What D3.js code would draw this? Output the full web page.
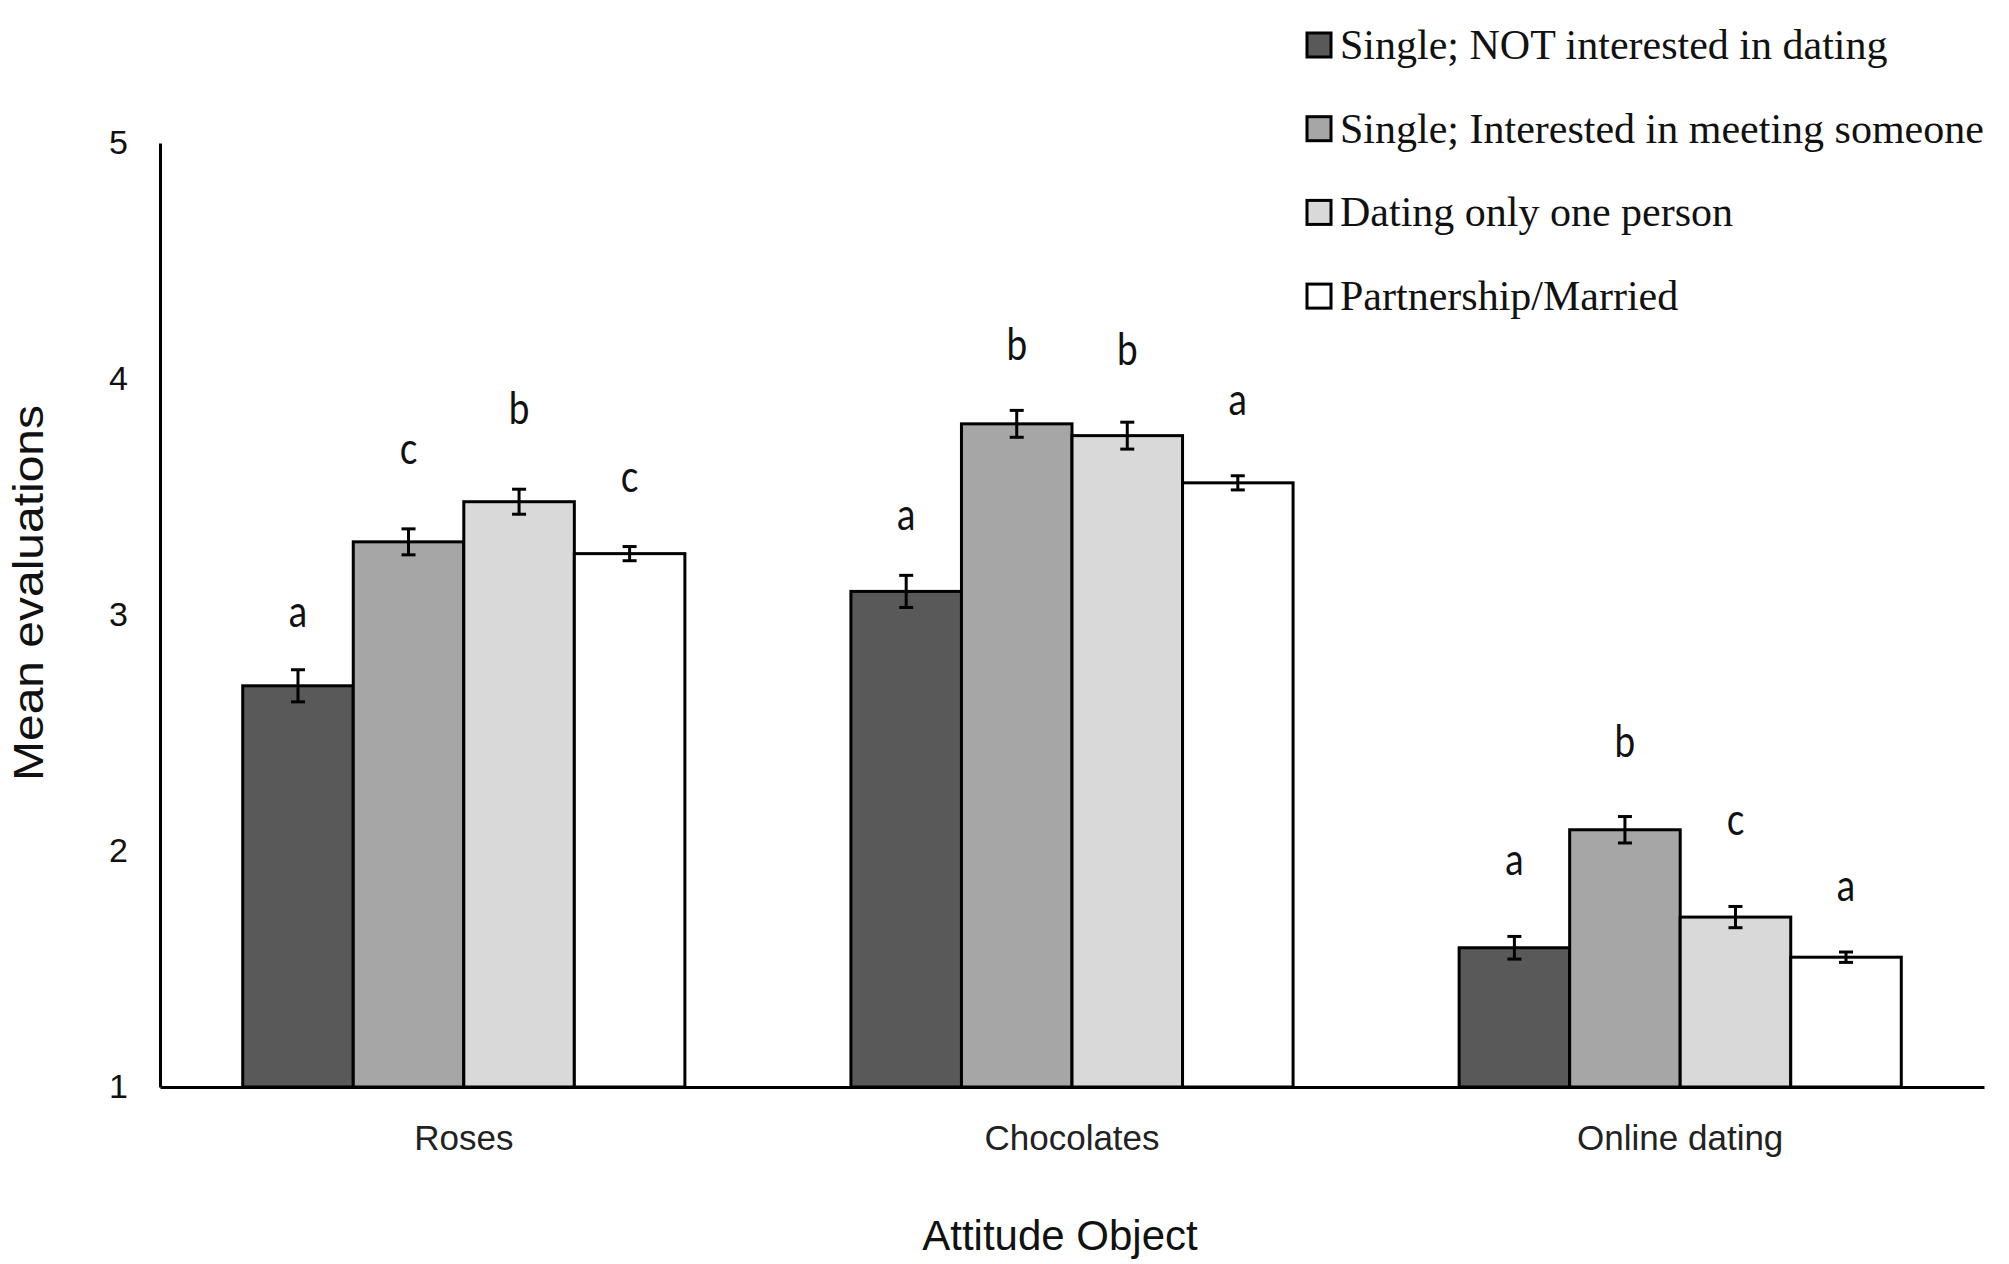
<!DOCTYPE html>
<html>
<head>
<meta charset="utf-8">
<script src="https://cdn.jsdelivr.net/npm/d3@7"></script>
<style>
  html, body { margin: 0; padding: 0; background: #fff; }
  svg { display: block; }
</style>
</head>
<body>
<div id="chart"></div>
<script>
// data
const categories = ['Roses', 'Chocolates', 'Online dating']
const groups = ['Single; NOT interested in dating', 'Single; Interested in meeting someone', 'Dating only one person', 'Partnership/Married']
const colors = ['#595959', '#a6a6a6', '#d9d9d9', '#ffffff']

// means per group, one value per category
const notInterested = [2.70, 3.10, 1.59]
const meetingSomeone = [3.31, 3.81, 2.09]
const datingOne = [3.48, 3.76, 1.72]
const married = [3.26, 3.56, 1.55]

// standard errors
const errNotInterested = [0.068, 0.068, 0.048]
const errMeetingSomeone = [0.055, 0.057, 0.056]
const errDatingOne = [0.053, 0.057, 0.045]
const errMarried = [0.03, 0.03, 0.022]

// significance letters and the level (y value) where each is printed
const lettersNotInterested = ['a', 'a', 'a']
const lettersMeetingSomeone = ['c', 'b', 'b']
const lettersDatingOne = ['b', 'b', 'c']
const lettersMarried = ['c', 'a', 'a']
const letterLevels = [
    [3.00, 3.41, 1.95],
    [3.69, 4.13, 2.45],
    [3.86, 4.11, 2.12],
    [3.57, 3.90, 1.84]
]

const yTicks = [1, 2, 3, 4, 5]

const means = [notInterested, meetingSomeone, datingOne, married]
const errs = [errNotInterested, errMeetingSomeone, errDatingOne, errMarried]
const letters = [lettersNotInterested, lettersMeetingSomeone, lettersDatingOne, lettersMarried]

const rows = []
categories.forEach((c, ci) => {
    groups.forEach((g, gi) => {
        rows.push({cat: c, group: g, gi: gi, value: means[gi][ci], err: errs[gi][ci],
            letter: letters[gi][ci], level: letterLevels[gi][ci]})
    })
})

const width = 2009, height = 1264

const svg = d3.select('#chart')
    .append('svg')
    .attr('width', width)
    .attr('height', height)

svg.append('rect').attr('width', width).attr('height', height).attr('fill', '#fff')

const y = d3.scaleLinear().domain([1, 5]).range([1087, 143])
const x0 = d3.scaleBand().domain(categories).range([160, 1984])
    .paddingInner(0.273).paddingOuter(0.136)
const x1 = d3.scaleBand().domain(groups).range([0, x0.bandwidth()])
const color = d3.scaleOrdinal().domain(groups).range(colors)

// bars
const bar = svg.selectAll('g.bar')
    .data(rows)
    .enter()
    .append('g')
    .attr('class', 'bar')
    .attr('transform', d => 'translate(' + (x0(d.cat) + x1(d.group)) + ',0)')

bar.append('rect')
    .attr('x', 0)
    .attr('y', d => y(d.value))
    .attr('width', x1.bandwidth())
    .attr('height', d => y(1) - y(d.value))
    .attr('fill', d => color(d.group))
    .attr('stroke', '#000')
    .attr('stroke-width', 3)

// error bars
const cx = x1.bandwidth() / 2
bar.append('line')
    .attr('x1', cx).attr('x2', cx)
    .attr('y1', d => y(d.value - d.err))
    .attr('y2', d => y(d.value + d.err))
    .attr('stroke', '#000').attr('stroke-width', 3)
bar.selectAll('line.cap')
    .data(d => [d.value - d.err, d.value + d.err])
    .enter()
    .append('line')
    .attr('class', 'cap')
    .attr('x1', cx - 7).attr('x2', cx + 7)
    .attr('y1', v => y(v)).attr('y2', v => y(v))
    .attr('stroke', '#000').attr('stroke-width', 3)

// letters
bar.append('g')
    .attr('transform', d => 'translate(' + cx + ',' + (y(d.level) + 12) + ') scale(1,1.22)')
    .append('text')
    .attr('text-anchor', 'middle')
    .attr('font-family', 'Lato, "Open Sans", sans-serif')
    .attr('font-size', '37px')
    .attr('fill', '#111')
    .text(d => d.letter)

// axes
const yAxis = svg.append('g')
    .attr('transform', 'translate(160,0)')
    .call(d3.axisLeft(y).tickValues(yTicks).tickFormat(d3.format('d')).tickSize(0).tickPadding(32))
yAxis.select('.domain').attr('stroke', '#000').attr('stroke-width', 3)
yAxis.selectAll('text')
    .attr('font-family', '"Liberation Sans", Arial, sans-serif')
    .attr('font-size', '34px')
    .attr('fill', '#111')

const xAxis = svg.append('g')
    .attr('transform', 'translate(0,' + y(1) + ')')
    .call(d3.axisBottom(x0).tickSize(0).tickPadding(38))
xAxis.select('.domain').attr('stroke', '#000').attr('stroke-width', 3)
xAxis.selectAll('text')
    .attr('font-family', '"Liberation Sans", Arial, sans-serif')
    .attr('font-size', '35px')
    .attr('fill', '#222')

// axis titles
svg.append('text')
    .attr('transform', 'translate(28,593) rotate(-90)')
    .attr('text-anchor', 'middle')
    .attr('dominant-baseline', 'central')
    .attr('font-family', '"Liberation Sans", Arial, sans-serif')
    .attr('font-size', '43px')
    .attr('textLength', 376)
    .attr('lengthAdjust', 'spacingAndGlyphs')
    .attr('fill', '#111')
    .text('Mean evaluations')

svg.append('text')
    .attr('x', 1060)
    .attr('y', 1250)
    .attr('text-anchor', 'middle')
    .attr('font-family', '"Liberation Sans", Arial, sans-serif')
    .attr('font-size', '42px')
    .attr('fill', '#111')
    .text('Attitude Object')

// legend
const legend = svg.selectAll('g.legend')
    .data(groups)
    .enter()
    .append('g')
    .attr('class', 'legend')
    .attr('transform', (d, i) => 'translate(1307,' + (45 + i * 83.7) + ')')

legend.append('rect')
    .attr('x', 0).attr('y', -12)
    .attr('width', 24).attr('height', 24)
    .attr('fill', d => color(d))
    .attr('stroke', '#000')
    .attr('stroke-width', 3)

legend.append('text')
    .attr('x', 33)
    .attr('y', 14)
    .attr('font-family', '"Liberation Serif", "Times New Roman", serif')
    .attr('font-size', '42px')
    .attr('fill', '#111')
    .text(d => d)
</script>
</body>
</html>
